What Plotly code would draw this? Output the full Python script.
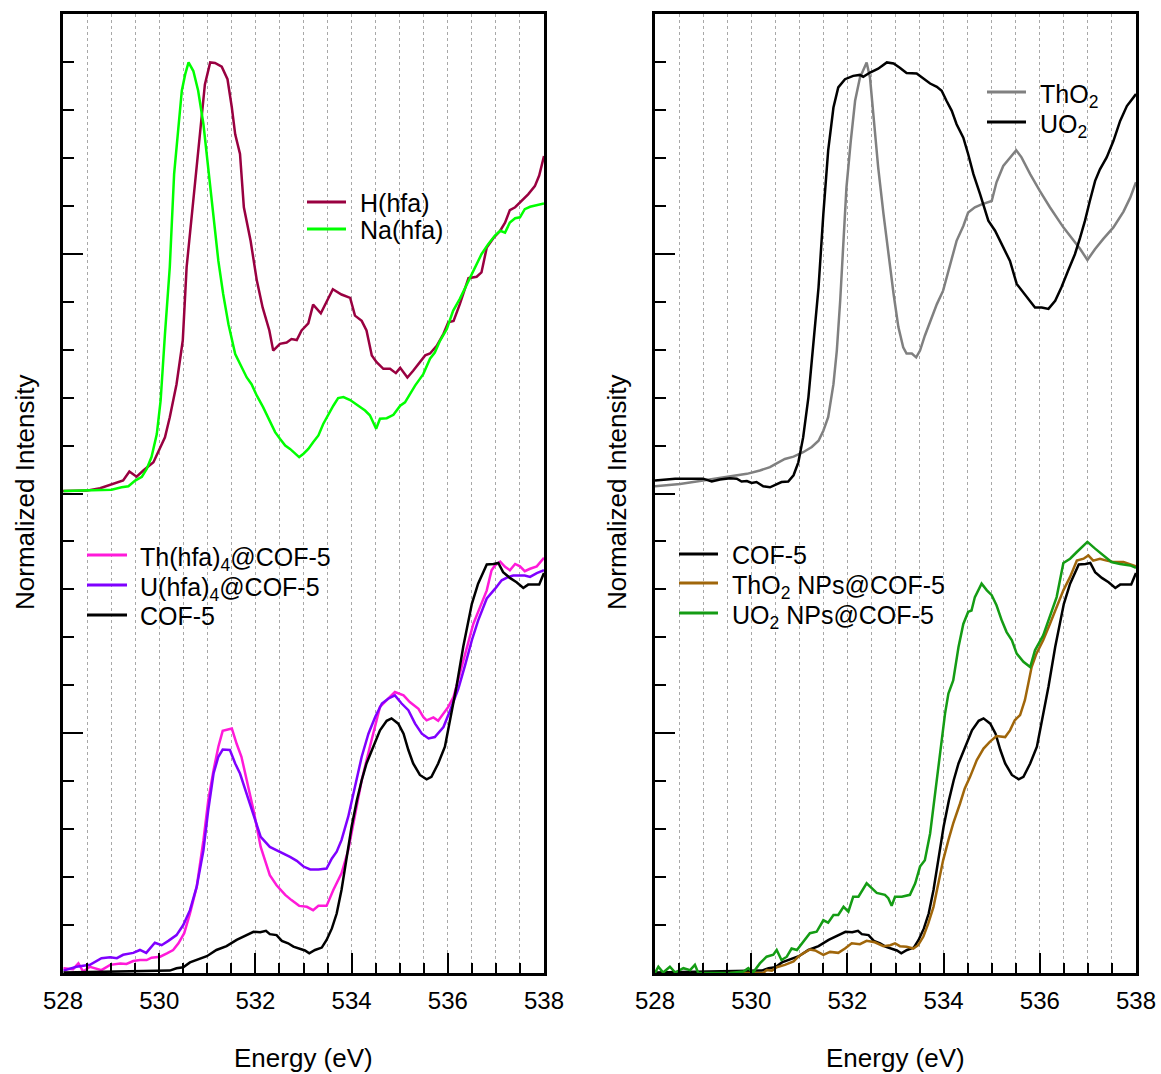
import plotly.graph_objects as go

# ---------------- data ----------------
# Left panel, top: ligands (offset +1.0)
h_hfa_x = [528.0, 528.49, 528.77, 529.25, 529.38, 529.53, 529.67, 529.88, 530.12, 530.22, 530.36, 530.49,
           530.57, 530.71, 530.85, 530.95, 531.06, 531.16, 531.30, 531.42, 531.51, 531.58, 531.68, 531.76,
           531.90, 532.03, 532.15, 532.29, 532.37, 532.51, 532.65, 532.75, 532.86, 532.96, 533.10, 533.20,
           533.36, 533.48, 533.61, 533.79, 533.97, 534.07, 534.21, 534.31, 534.42, 534.52, 534.66, 534.80,
           534.92, 535.01, 535.16, 535.28, 535.39, 535.53, 535.63, 535.77, 535.91, 536.01, 536.12, 536.25,
           536.43, 536.60, 536.70, 536.81, 536.95, 537.09, 537.19, 537.29, 537.40, 537.54, 537.67, 537.81,
           537.90, 538.0]
h_hfa_y = [1.005, 1.006, 1.011, 1.027, 1.046, 1.035, 1.048, 1.065, 1.117, 1.159, 1.228, 1.319,
           1.472, 1.610, 1.749, 1.853, 1.899, 1.898, 1.890, 1.864, 1.805, 1.749, 1.708, 1.597,
           1.527, 1.444, 1.388, 1.340, 1.298, 1.312, 1.315, 1.322, 1.320, 1.340, 1.355, 1.394,
           1.376, 1.399, 1.426, 1.415, 1.408, 1.371, 1.360, 1.340, 1.288, 1.274, 1.260, 1.260,
           1.251, 1.262, 1.242, 1.256, 1.270, 1.288, 1.292, 1.308, 1.333, 1.357, 1.360, 1.395,
           1.449, 1.452, 1.461, 1.513, 1.533, 1.548, 1.565, 1.591, 1.597, 1.610, 1.624, 1.641,
           1.663, 1.704]

na_hfa_x = [528.01, 528.56, 529.01, 529.22, 529.36, 529.50, 529.64, 529.74, 529.84, 529.95, 530.03, 530.12,
            530.22, 530.31, 530.38, 530.47, 530.54, 530.61, 530.71, 530.81, 530.92, 531.02, 531.13, 531.23,
            531.33, 531.44, 531.58, 531.68, 531.82, 531.92, 532.03, 532.16, 532.30, 532.41, 532.51, 532.62,
            532.72, 532.82, 532.91, 533.00, 533.10, 533.20, 533.31, 533.41, 533.52, 533.62, 533.72, 533.83,
            533.97, 534.14, 534.28, 534.38, 534.45, 534.51, 534.59, 534.73, 534.87, 535.01, 535.11, 535.21,
            535.32, 535.49, 535.63, 535.73, 535.84, 535.98, 536.11, 536.25, 536.43, 536.60, 536.70, 536.84,
            536.98, 537.09, 537.19, 537.29, 537.40, 537.50, 537.60, 537.71, 537.85, 538.0]
na_hfa_y = [1.005, 1.006, 1.008, 1.013, 1.015, 1.027, 1.035, 1.051, 1.076, 1.124, 1.194, 1.333,
            1.472, 1.666, 1.749, 1.840, 1.874, 1.899, 1.881, 1.840, 1.770, 1.680, 1.576, 1.485,
            1.416, 1.353, 1.291, 1.270, 1.242, 1.228, 1.204, 1.180, 1.152, 1.128, 1.114, 1.100,
            1.093, 1.083, 1.076, 1.083, 1.093, 1.107, 1.121, 1.145, 1.166, 1.183, 1.199, 1.201,
            1.195, 1.183, 1.173, 1.163, 1.149, 1.135, 1.156, 1.157, 1.164, 1.183, 1.190, 1.208,
            1.225, 1.249, 1.281, 1.294, 1.319, 1.343, 1.381, 1.406, 1.444, 1.478, 1.499, 1.520,
            1.538, 1.548, 1.544, 1.565, 1.574, 1.576, 1.593, 1.598, 1.601, 1.605]

# Left panel, bottom: molecular complexes in COF-5
th_hfa_cof_x = [528.01, 528.21, 528.32, 528.42, 528.56, 528.80, 528.98, 529.19, 529.32, 529.46, 529.60, 529.74,
                529.84, 530.02, 530.16, 530.29, 530.40, 530.52, 530.64, 530.78, 530.92, 531.02, 531.13, 531.23,
                531.32, 531.51, 531.61, 531.71, 531.82, 531.96, 532.11, 532.30, 532.44, 532.62, 532.75, 532.91,
                533.07, 533.20, 533.31, 533.48, 533.62, 533.79, 533.93, 534.07, 534.21, 534.38, 534.52, 534.59,
                534.76, 534.90, 535.08, 535.21, 535.39, 535.49, 535.56, 535.70, 535.80, 535.91, 536.01, 536.12,
                536.25, 536.39, 536.53, 536.67, 536.81, 536.91, 536.98, 537.09, 537.19, 537.29, 537.40, 537.50,
                537.60, 537.71, 537.85, 538.0]
th_hfa_cof_y = [0.010, 0.008, 0.020, 0.003, 0.013, 0.006, 0.017, 0.020, 0.019, 0.025, 0.027, 0.027,
                0.032, 0.034, 0.041, 0.048, 0.062, 0.083, 0.124, 0.180, 0.277, 0.360, 0.423, 0.472,
                0.505, 0.510, 0.478, 0.451, 0.402, 0.340, 0.263, 0.204, 0.183, 0.163, 0.152, 0.140,
                0.138, 0.131, 0.140, 0.140, 0.173, 0.208, 0.256, 0.326, 0.402, 0.472, 0.527, 0.555,
                0.572, 0.586, 0.579, 0.565, 0.551, 0.534, 0.527, 0.533, 0.526, 0.541, 0.555, 0.576,
                0.624, 0.680, 0.728, 0.763, 0.798, 0.840, 0.850, 0.858, 0.847, 0.840, 0.853, 0.848,
                0.838, 0.843, 0.848, 0.866]

u_hfa_cof_x = [528.01, 528.28, 528.56, 528.80, 528.98, 529.12, 529.25, 529.46, 529.60, 529.73, 529.91, 530.05,
               530.19, 530.36, 530.50, 530.64, 530.78, 530.92, 531.02, 531.13, 531.23, 531.32, 531.47, 531.58,
               531.68, 531.82, 531.96, 532.11, 532.30, 532.51, 532.72, 532.86, 533.00, 533.14, 533.31, 533.48,
               533.59, 533.69, 533.79, 533.93, 534.07, 534.21, 534.35, 534.49, 534.63, 534.76, 534.90, 535.04,
               535.18, 535.32, 535.46, 535.60, 535.73, 535.91, 536.05, 536.22, 536.36, 536.50, 536.63, 536.81,
               536.98, 537.12, 537.26, 537.36, 537.50, 537.60, 537.71, 537.85, 538.0]
u_hfa_cof_y = [0.005, 0.013, 0.017, 0.031, 0.033, 0.031, 0.038, 0.042, 0.048, 0.042, 0.063, 0.058,
               0.067, 0.079, 0.100, 0.131, 0.180, 0.256, 0.340, 0.416, 0.451, 0.466, 0.465, 0.437,
               0.416, 0.374, 0.333, 0.284, 0.263, 0.253, 0.242, 0.234, 0.222, 0.216, 0.216, 0.218,
               0.239, 0.253, 0.277, 0.326, 0.388, 0.451, 0.499, 0.534, 0.562, 0.572, 0.579, 0.562,
               0.548, 0.520, 0.499, 0.489, 0.492, 0.513, 0.548, 0.593, 0.642, 0.694, 0.735, 0.781,
               0.801, 0.819, 0.826, 0.829, 0.829, 0.829, 0.826, 0.834, 0.840]

cof5_x = [528.01, 528.91, 529.60, 530.22, 530.36, 530.50, 530.64, 530.81, 530.99, 531.19, 531.40, 531.61,
          531.78, 531.96, 532.10, 532.22, 532.30, 532.44, 532.55, 532.68, 532.79, 532.93, 533.03, 533.12,
          533.24, 533.38, 533.48, 533.59, 533.69, 533.79, 533.90, 534.00, 534.11, 534.21, 534.31, 534.45,
          534.59, 534.73, 534.83, 534.97, 535.08, 535.18, 535.28, 535.42, 535.56, 535.66, 535.80, 535.94,
          536.05, 536.18, 536.32, 536.50, 536.63, 536.81, 536.95, 537.05, 537.15, 537.29, 537.43, 537.57,
          537.67, 537.78, 537.90, 537.95, 538.0]
cof5_y = [0.001, 0.002, 0.003, 0.005, 0.010, 0.012, 0.022, 0.028, 0.035, 0.048, 0.056, 0.069,
          0.077, 0.086, 0.085, 0.088, 0.081, 0.079, 0.067, 0.062, 0.055, 0.051, 0.047, 0.041,
          0.048, 0.053, 0.069, 0.093, 0.124, 0.173, 0.242, 0.305, 0.360, 0.402, 0.437, 0.472,
          0.506, 0.526, 0.531, 0.520, 0.499, 0.465, 0.437, 0.413, 0.404, 0.409, 0.437, 0.472,
          0.527, 0.597, 0.680, 0.770, 0.812, 0.852, 0.853, 0.855, 0.836, 0.824, 0.815, 0.803,
          0.810, 0.810, 0.810, 0.822, 0.834]

# Right panel, top: bulk oxides (offset +1.0)
tho2_x = [528.00, 528.52, 529.00, 529.28, 529.56, 529.91, 530.18, 530.39, 530.53, 530.70, 530.88, 531.08,
          531.26, 531.40, 531.50, 531.60, 531.71, 531.78, 531.85, 531.92, 531.98, 532.07, 532.16, 532.26,
          532.40, 532.47, 532.54, 532.64, 532.75, 532.85, 532.96, 533.06, 533.16, 533.23, 533.34, 533.43,
          533.51, 533.61, 533.72, 533.86, 533.99, 534.13, 534.27, 534.41, 534.51, 534.65, 534.79, 535.00,
          535.10, 535.24, 535.38, 535.51, 535.62, 535.80, 536.00, 536.21, 536.49, 536.70, 536.84, 536.99,
          537.15, 537.32, 537.53, 537.74, 537.88, 538.00]
tho2_y = [1.015, 1.020, 1.027, 1.031, 1.035, 1.041, 1.048, 1.055, 1.063, 1.072, 1.077, 1.086,
          1.097, 1.110, 1.131, 1.159, 1.228, 1.298, 1.402, 1.541, 1.638, 1.735, 1.819, 1.867,
          1.899, 1.867, 1.784, 1.680, 1.583, 1.499, 1.416, 1.347, 1.305, 1.292, 1.292, 1.284,
          1.298, 1.329, 1.360, 1.395, 1.423, 1.478, 1.527, 1.558, 1.586, 1.597, 1.603, 1.610,
          1.649, 1.683, 1.701, 1.716, 1.701, 1.666, 1.631, 1.597, 1.555, 1.527, 1.510, 1.487,
          1.510, 1.531, 1.555, 1.588, 1.617, 1.649]

uo2_x = [528.00, 528.42, 529.00, 529.18, 529.35, 529.56, 529.70, 529.80, 529.91, 530.01, 530.11, 530.25,
         530.39, 530.53, 530.63, 530.77, 530.88, 530.98, 531.08, 531.19, 531.29, 531.40, 531.50, 531.60,
         531.71, 531.81, 531.95, 532.12, 532.26, 532.33, 532.47, 532.64, 532.82, 532.96, 533.09, 533.23,
         533.44, 533.58, 533.72, 533.86, 533.96, 534.06, 534.17, 534.27, 534.41, 534.51, 534.62, 534.76,
         534.93, 535.07, 535.21, 535.38, 535.52, 535.66, 535.80, 535.90, 536.04, 536.18, 536.32, 536.45,
         536.59, 536.73, 536.84, 536.94, 537.04, 537.15, 537.25, 537.39, 537.53, 537.67, 537.81, 538.00]
uo2_y = [1.027, 1.031, 1.031, 1.025, 1.029, 1.032, 1.031, 1.025, 1.026, 1.022, 1.024, 1.015,
         1.013, 1.020, 1.024, 1.025, 1.038, 1.065, 1.117, 1.201, 1.305, 1.430, 1.583, 1.715,
         1.805, 1.847, 1.864, 1.871, 1.873, 1.869, 1.878, 1.886, 1.899, 1.897, 1.888, 1.877,
         1.876, 1.866, 1.855, 1.848, 1.840, 1.819, 1.798, 1.770, 1.742, 1.708, 1.666, 1.624,
         1.569, 1.548, 1.520, 1.485, 1.437, 1.419, 1.399, 1.388, 1.388, 1.385, 1.402, 1.430,
         1.465, 1.499, 1.534, 1.569, 1.610, 1.652, 1.676, 1.701, 1.735, 1.777, 1.808, 1.833]

# Right panel, bottom: nanoparticles in COF-5
tho2_np_x = [529.56, 530.25, 530.32, 530.43, 530.53, 530.70, 530.88, 530.98, 531.08, 531.22, 531.33, 531.50,
             531.64, 531.81, 531.95, 532.09, 532.26, 532.40, 532.57, 532.75, 532.89, 532.99, 533.09, 533.23,
             533.37, 533.47, 533.58, 533.68, 533.79, 533.89, 533.99, 534.10, 534.20, 534.34, 534.44, 534.55,
             534.69, 534.83, 534.96, 535.10, 535.28, 535.38, 535.48, 535.59, 535.69, 535.76, 535.83, 535.93,
             536.07, 536.21, 536.35, 536.49, 536.63, 536.77, 536.91, 537.01, 537.11, 537.25, 537.39, 537.53,
             537.74, 537.88, 538.00]
tho2_np_y = [0.000, 0.000, 0.006, 0.005, 0.012, 0.017, 0.024, 0.034, 0.041, 0.049, 0.047, 0.038,
             0.044, 0.042, 0.051, 0.062, 0.060, 0.067, 0.064, 0.056, 0.058, 0.062, 0.056, 0.055,
             0.051, 0.058, 0.076, 0.103, 0.138, 0.187, 0.235, 0.277, 0.312, 0.353, 0.385, 0.409,
             0.444, 0.468, 0.482, 0.494, 0.492, 0.506, 0.527, 0.538, 0.569, 0.603, 0.638, 0.666,
             0.694, 0.728, 0.763, 0.798, 0.826, 0.860, 0.864, 0.871, 0.860, 0.864, 0.860, 0.857,
             0.857, 0.853, 0.848]

uo2_np_x = [528.00, 528.07, 528.17, 528.31, 528.42, 528.59, 528.73, 528.83, 528.90, 529.56, 529.84, 529.94,
            530.04, 530.18, 530.32, 530.46, 530.53, 530.63, 530.74, 530.84, 530.95, 531.08, 531.22, 531.36,
            531.50, 531.60, 531.71, 531.81, 531.92, 532.02, 532.12, 532.23, 532.40, 532.61, 532.78, 532.85,
            532.92, 532.99, 533.13, 533.30, 533.41, 533.51, 533.61, 533.72, 533.79, 533.86, 533.96, 534.03,
            534.10, 534.20, 534.31, 534.41, 534.51, 534.58, 534.65, 534.72, 534.79, 534.90, 535.00, 535.10,
            535.21, 535.31, 535.42, 535.52, 535.66, 535.80, 535.90, 536.07, 536.21, 536.35, 536.49, 536.63,
            536.77, 536.99, 537.15, 537.32, 537.49, 537.67, 537.88, 538.00]
uo2_np_y = [0.000, 0.013, 0.001, 0.013, 0.001, 0.010, 0.006, 0.017, 0.000, 0.000, 0.003, 0.010,
            0.001, 0.020, 0.034, 0.038, 0.048, 0.027, 0.034, 0.051, 0.048, 0.065, 0.083, 0.086,
            0.110, 0.105, 0.121, 0.121, 0.138, 0.128, 0.159, 0.159, 0.187, 0.167, 0.163, 0.156,
            0.140, 0.159, 0.159, 0.163, 0.187, 0.222, 0.235, 0.291, 0.347, 0.402, 0.478, 0.541,
            0.583, 0.610, 0.680, 0.728, 0.753, 0.756, 0.784, 0.798, 0.812, 0.798, 0.788, 0.767,
            0.735, 0.711, 0.694, 0.666, 0.649, 0.638, 0.673, 0.704, 0.742, 0.784, 0.855, 0.864,
            0.878, 0.899, 0.885, 0.871, 0.857, 0.853, 0.850, 0.845]

x_ticks = [528, 530, 532, 534, 536, 538]
x_tick_text = ["528", "530", "532", "534", "536", "538"]

# ---------------- styling ----------------
W, H = 1161, 1074
FONT = "Liberation Sans, Arial, Helvetica, sans-serif"

C_H = "#990040"
C_NA = "#00ff00"
C_TH = "#ff1ad9"
C_U = "#7f00ff"
C_BLK = "#000000"
C_GRAY = "#808080"
C_THNP = "#a0660a"
C_UNP = "#149c14"
LW = 2.5


def px(xp):
    return xp / W


def py(yp):
    return 1 - yp / H


left_dom = [px(63), px(544)]
right_dom = [px(655), px(1136)]
y_dom = [py(973), py(14)]

fig = go.Figure()

series = [
    # (x, y, color, axes, name)
    (h_hfa_x, h_hfa_y, C_H, "left", "H(hfa)"),
    (na_hfa_x, na_hfa_y, C_NA, "left", "Na(hfa)"),
    (th_hfa_cof_x, th_hfa_cof_y, C_TH, "left", "Th(hfa)4@COF-5"),
    (u_hfa_cof_x, u_hfa_cof_y, C_U, "left", "U(hfa)4@COF-5"),
    (cof5_x, cof5_y, C_BLK, "left", "COF-5"),
    (tho2_x, tho2_y, C_GRAY, "right", "ThO2"),
    (uo2_x, uo2_y, C_BLK, "right", "UO2"),
    (cof5_x, cof5_y, C_BLK, "right", "COF-5"),
    (tho2_np_x, tho2_np_y, C_THNP, "right", "ThO2 NPs@COF-5"),
    (uo2_np_x, uo2_np_y, C_UNP, "right", "UO2 NPs@COF-5"),
]
for xs, ys, col, side, name in series:
    fig.add_trace(go.Scatter(
        x=xs, y=ys, mode="lines", name=name, showlegend=False,
        line=dict(color=col, width=LW),
        xaxis="x" if side == "left" else "x2",
        yaxis="y" if side == "left" else "y2",
        hoverinfo="skip",
    ))

grid_col = "#a8a8a8"


def xaxis_cfg(dom, anchor):
    return dict(
        domain=dom, anchor=anchor, range=[528, 538], automargin=False,
        tickmode="array", tickvals=x_ticks, ticktext=x_tick_text,
        ticks="inside", ticklen=20, tickwidth=2, tickcolor="black",
        showline=True, linewidth=2.5, linecolor="black", mirror=True,
        showgrid=True, gridcolor=grid_col, griddash="dot", gridwidth=1.3,
        minor=dict(tick0=528, dtick=0.5, ticks="inside", ticklen=10, tickwidth=2,
                   tickcolor="black", showgrid=True, gridcolor=grid_col,
                   griddash="dot", gridwidth=1.3),
        tickfont=dict(family=FONT, size=24, color="black"),
        ticklabelstandoff=4, zeroline=False, fixedrange=True,
    )


def yaxis_cfg(anchor):
    return dict(
        domain=y_dom, anchor=anchor, range=[0, 2.0], automargin=False,
        tick0=0, dtick=0.5, ticks="inside", ticklen=20, tickwidth=2, tickcolor="black",
        showticklabels=False, showgrid=False, zeroline=False,
        showline=True, linewidth=2.5, linecolor="black", mirror=True,
        minor=dict(tick0=0, dtick=0.1, ticks="inside", ticklen=11, tickwidth=2,
                   tickcolor="black", showgrid=False),
        fixedrange=True,
    )


fig.update_layout(
    width=W, height=H,
    margin=dict(l=0, r=0, t=0, b=0, autoexpand=False),
    paper_bgcolor="white", plot_bgcolor="white",
    font=dict(family=FONT, color="black"),
    xaxis=xaxis_cfg(left_dom, "y"),
    yaxis=yaxis_cfg("x"),
    xaxis2=xaxis_cfg(right_dom, "y2"),
    yaxis2=yaxis_cfg("x2"),
)

annotations = []
# axis titles
for dom, ytx in [(left_dom, 25), (right_dom, 617)]:
    annotations.append(dict(text="Energy (eV)", x=(dom[0] + dom[1]) / 2, y=py(1058),
                            xref="paper", yref="paper", xanchor="center", yanchor="middle",
                            showarrow=False, font=dict(family=FONT, size=26, color="black")))
    annotations.append(dict(text="Normalized Intensity", x=px(ytx), y=py(492),
                            xref="paper", yref="paper", xanchor="center", yanchor="middle",
                            textangle=-90, showarrow=False,
                            font=dict(family=FONT, size=26, color="black")))

# legends (drawn manually: sample line + label)
legend_rows = [
    # (line x0, line x1, text x, row y, color, label)
    (307, 346, 358, 202, C_H, "H(hfa)"),
    (307, 346, 358, 229, C_NA, "Na(hfa)"),
    (87, 127, 138, 555, C_TH, "Th(hfa)<sub>4</sub>@COF-5"),
    (87, 127, 138, 585, C_U, "U(hfa)<sub>4</sub>@COF-5"),
    (87, 127, 138, 615, C_BLK, "COF-5"),
    (987, 1026, 1038, 92, C_GRAY, "ThO<sub>2</sub>"),
    (987, 1026, 1038, 122, C_BLK, "UO<sub>2</sub>"),
    (679, 718, 730, 554, C_BLK, "COF-5"),
    (679, 718, 730, 583, C_THNP, "ThO<sub>2</sub> NPs@COF-5"),
    (679, 718, 730, 613, C_UNP, "UO<sub>2</sub> NPs@COF-5"),
]
shapes = []
for x0, x1, tx, ry, col, label in legend_rows:
    shapes.append(dict(type="line", xref="paper", yref="paper",
                       x0=px(x0), x1=px(x1), y0=py(ry), y1=py(ry),
                       line=dict(color=col, width=3)))
    has_sub = "<sub>" in label
    annotations.append(dict(text=label, x=px(tx), y=py(ry + (4 if has_sub else 1)),
                            xref="paper", yref="paper", xanchor="left", yanchor="middle",
                            showarrow=False, font=dict(family=FONT, size=25, color="black")))

fig.update_layout(annotations=annotations, shapes=shapes)

fig.write_html("out.html")
